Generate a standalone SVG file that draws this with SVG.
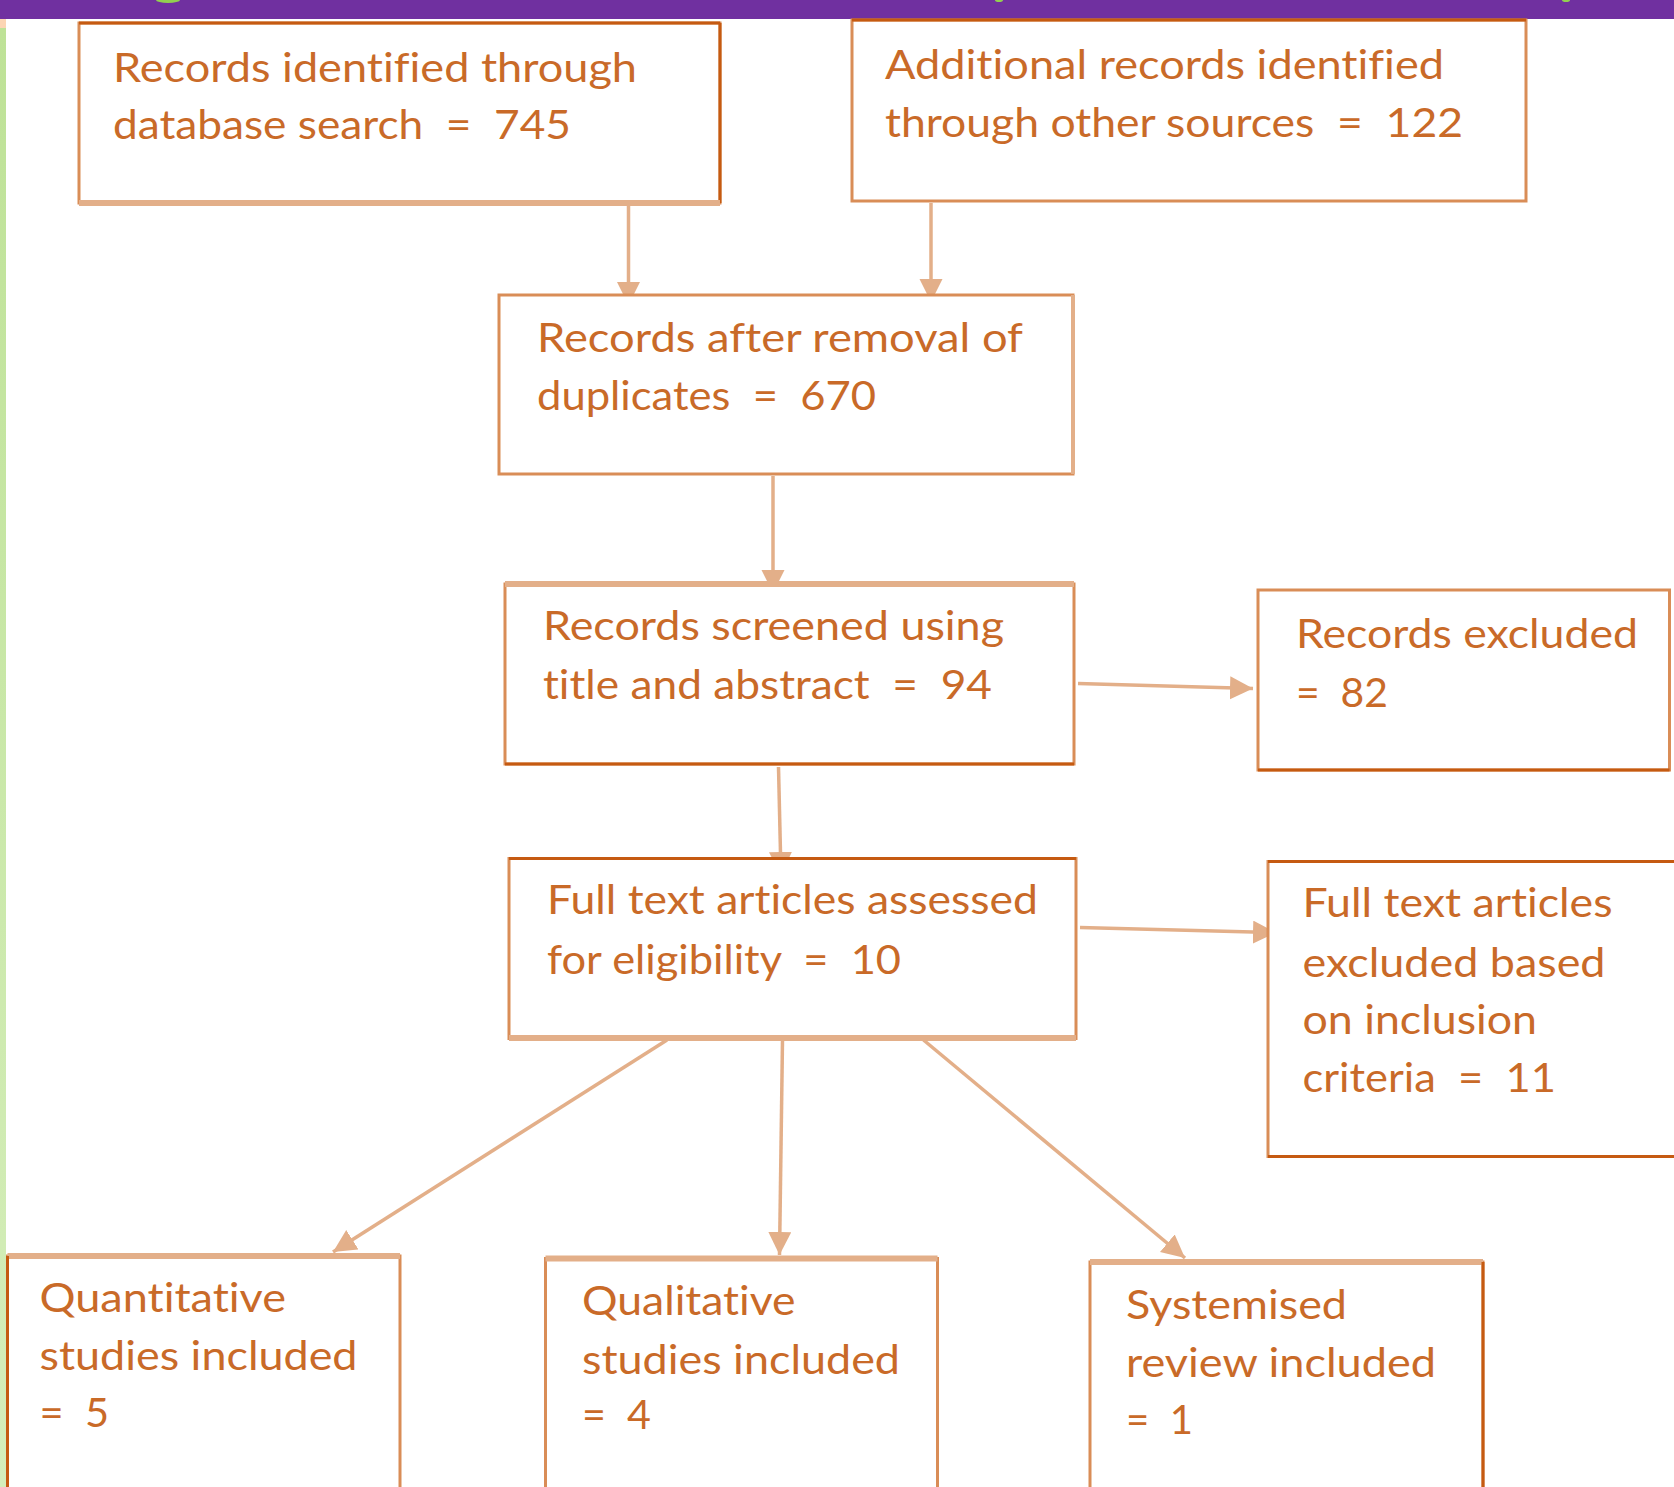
<svg xmlns="http://www.w3.org/2000/svg" width="1674" height="1487" viewBox="0 0 1674 1487">
<defs>
<style>
.bx{fill:#FFFFFF;stroke:#D98D57;stroke-width:3}
.dk{stroke:#C55A11;stroke-width:3;fill:none}
.lt{stroke:#E3AF89;stroke-width:6;fill:none}
.t{font-family:Lato,"Open Sans","Liberation Sans",sans-serif;font-size:40px;fill:#C96A28;white-space:pre;font-variant-ligatures:none;font-feature-settings:"liga" 0}
.cn{stroke:#E3AF89;stroke-width:3.5;fill:none;marker-end:url(#ah)}
</style>
<marker id="ah" markerUnits="userSpaceOnUse" markerWidth="24" markerHeight="24" refX="23" refY="11.5" orient="auto" viewBox="0 0 24 24">
<path d="M0,0 L23,11.5 L0,23 z" fill="#E3AF89"/>
</marker>
<linearGradient id="gs" x1="0" y1="0" x2="0" y2="1">
<stop offset="0" stop-color="#BEE297"/>
<stop offset="1" stop-color="#D5EEBB"/>
</linearGradient>
</defs>
<rect x="0" y="0" width="1674" height="1487" fill="#FFFFFF"/>
<g id="header">
<rect x="0" y="0" width="1674" height="19" fill="#7030A0"/>
<ellipse cx="168" cy="0" rx="12" ry="3" fill="#92D050"/>
<ellipse cx="999" cy="0" rx="4" ry="2" fill="#92D050"/>
<ellipse cx="1566" cy="0" rx="4" ry="2" fill="#92D050"/>
<rect x="0" y="19" width="6" height="9" fill="#FCD5B4"/>
<rect x="0" y="28" width="6" height="1459" fill="url(#gs)"/>
</g>
<g id="connectors">
<line class="cn" x1="628.5" y1="206" x2="628.5" y2="305"/>
<line class="cn" x1="931" y1="203" x2="931" y2="302"/>
<line class="cn" x1="773" y1="476" x2="773" y2="593"/>
<line class="cn" x1="1078" y1="683.5" x2="1253" y2="688.5"/>
<line class="cn" x1="778.5" y1="767" x2="781" y2="875"/>
<line class="cn" x1="1080" y1="927.5" x2="1276" y2="932.7"/>
<line class="cn" x1="667" y1="1040" x2="333" y2="1252"/>
<line class="cn" x1="782.5" y1="1040" x2="779.5" y2="1255"/>
<line class="cn" x1="923.5" y1="1040" x2="1185" y2="1258"/>
</g>
<g id="n1">
<rect class="bx" x="79" y="23" width="641" height="180"/>
<line class="dk" x1="79" y1="23" x2="720" y2="23"/>
<line class="dk" x1="720" y1="23" x2="720" y2="203"/>
<line class="lt" x1="79" y1="203" x2="720" y2="203"/>
<text class="t" x="113" y="81.5" textLength="524" lengthAdjust="spacingAndGlyphs">Records identified through</text>
<text class="t" x="113" y="139" textLength="458" lengthAdjust="spacingAndGlyphs">database search  =  745</text>
</g>
<g id="n2">
<rect class="bx" x="852" y="20" width="674" height="181"/>
<line class="dk" x1="852" y1="20" x2="1526" y2="20"/>
<text class="t" x="885" y="78.5" textLength="559" lengthAdjust="spacingAndGlyphs">Additional records identified</text>
<text class="t" x="885" y="136.5" textLength="578" lengthAdjust="spacingAndGlyphs">through other sources  =  122</text>
</g>
<g id="n3">
<rect class="bx" x="499" y="295" width="574" height="179"/>
<line class="lt" x1="1073" y1="295" x2="1073" y2="474" style="stroke-width:4"/>
<text class="t" x="537" y="351.5" textLength="486" lengthAdjust="spacingAndGlyphs">Records after removal of</text>
<text class="t" x="537" y="410" textLength="339" lengthAdjust="spacingAndGlyphs">duplicates  =  670</text>
</g>
<g id="n4">
<rect class="bx" x="505" y="584" width="569" height="180"/>
<line class="lt" x1="505" y1="584" x2="1074" y2="584"/>
<line class="dk" x1="505" y1="764" x2="1074" y2="764"/>
<text class="t" x="543" y="640" textLength="461" lengthAdjust="spacingAndGlyphs">Records screened using</text>
<text class="t" x="543" y="698.5" textLength="449" lengthAdjust="spacingAndGlyphs">title and abstract  =  94</text>
</g>
<g id="n5">
<rect class="bx" x="1258" y="590" width="411.5" height="180"/>
<line class="dk" x1="1258" y1="770" x2="1669.5" y2="770"/>
<text class="t" x="1296" y="647.5" textLength="342" lengthAdjust="spacingAndGlyphs">Records excluded</text>
<text class="t" x="1296" y="706.5" textLength="92" lengthAdjust="spacingAndGlyphs">=  82</text>
</g>
<g id="n6">
<rect class="bx" x="509" y="858.5" width="567" height="180"/>
<line class="dk" x1="509" y1="858.5" x2="1076" y2="858.5"/>
<line class="lt" x1="509" y1="1038" x2="1076" y2="1038"/>
<text class="t" x="547" y="914" textLength="491" lengthAdjust="spacingAndGlyphs">Full text articles assessed</text>
<text class="t" x="547" y="973.5" textLength="354" lengthAdjust="spacingAndGlyphs">for eligibility  =  10</text>
</g>
<g id="n7">
<rect class="bx" x="1268" y="861.5" width="430" height="295"/>
<line class="dk" x1="1268" y1="861.5" x2="1698" y2="861.5"/>
<line class="dk" x1="1268" y1="1156.5" x2="1698" y2="1156.5"/>
<text class="t" x="1302.5" y="916.5" textLength="310" lengthAdjust="spacingAndGlyphs">Full text articles</text>
<text class="t" x="1302.5" y="976.5" textLength="303" lengthAdjust="spacingAndGlyphs">excluded based</text>
<text class="t" x="1302.5" y="1033.5" textLength="234.5" lengthAdjust="spacingAndGlyphs">on inclusion</text>
<text class="t" x="1302.5" y="1091.5" textLength="253.5" lengthAdjust="spacingAndGlyphs">criteria  =  11</text>
</g>
<g id="n8">
<rect class="bx" x="7.5" y="1256" width="392.5" height="260"/>
<line class="lt" x1="7.5" y1="1256" x2="400" y2="1256"/>
<line class="dk" x1="7.5" y1="1256" x2="7.5" y2="1516"/>
<text class="t" x="39.5" y="1311.5" textLength="246.5" lengthAdjust="spacingAndGlyphs">Quantitative</text>
<text class="t" x="39.5" y="1370" textLength="318" lengthAdjust="spacingAndGlyphs">studies included</text>
<text class="t" x="39.5" y="1426.5" textLength="69.5" lengthAdjust="spacingAndGlyphs">=  5</text>
</g>
<g id="n9">
<rect class="bx" x="545.5" y="1258.5" width="392" height="260"/>
<line class="lt" x1="545.5" y1="1258.5" x2="937.5" y2="1258.5"/>
<text class="t" x="582" y="1315" textLength="213.5" lengthAdjust="spacingAndGlyphs">Qualitative</text>
<text class="t" x="582" y="1373.5" textLength="318" lengthAdjust="spacingAndGlyphs">studies included</text>
<text class="t" x="582" y="1428.5" textLength="69" lengthAdjust="spacingAndGlyphs">=  4</text>
</g>
<g id="n10">
<rect class="bx" x="1090" y="1262" width="393" height="260"/>
<line class="lt" x1="1090" y1="1262" x2="1483" y2="1262"/>
<line class="dk" x1="1483" y1="1262" x2="1483" y2="1522"/>
<text class="t" x="1126" y="1318.5" textLength="221" lengthAdjust="spacingAndGlyphs">Systemised</text>
<text class="t" x="1126" y="1376.5" textLength="310" lengthAdjust="spacingAndGlyphs">review included</text>
<text class="t" x="1126" y="1433.5" textLength="67" lengthAdjust="spacingAndGlyphs">=  1</text>
</g>
</svg>
